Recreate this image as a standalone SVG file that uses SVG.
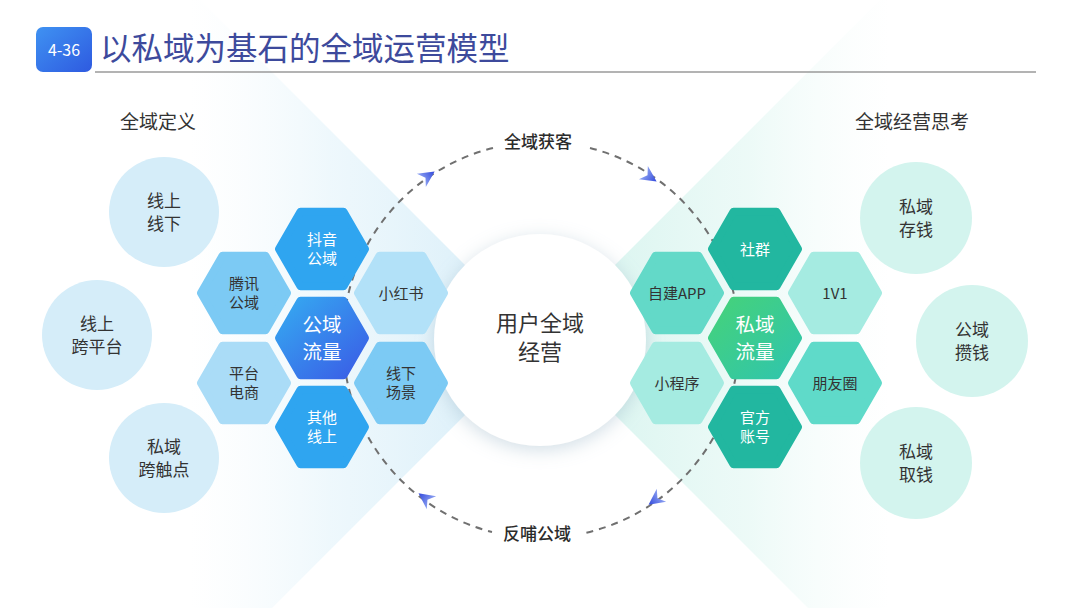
<svg xmlns="http://www.w3.org/2000/svg" width="1080" height="608" viewBox="0 0 1080 608">
<defs>
<style>
text{font-family:"Noto Sans CJK SC","Noto Sans",sans-serif;text-anchor:middle;}
.dk{fill:#333333;}
.wt{fill:#ffffff;}
.h15{font-size:15px;}
.h20{font-size:19.5px;}
.c17{font-size:17px;}
.lbl{font-size:17px;font-weight:500;fill:#2b2b2b;}
.hd{font-size:19px;fill:#333333;}
.arc{fill:none;stroke:#707070;stroke-width:2;stroke-dasharray:7 6;}
.hex{stroke-width:8;stroke-linejoin:round;}
</style>
<linearGradient id="badge" x1="0" y1="0" x2="1" y2="1">
<stop offset="0" stop-color="#3f92f2"/><stop offset="1" stop-color="#2e5ae0"/>
</linearGradient>
<linearGradient id="wedgeL" gradientUnits="userSpaceOnUse" x1="540" y1="0" x2="190" y2="0">
<stop offset="0" stop-color="#cfeaf7" stop-opacity="0.9"/>
<stop offset="0.6" stop-color="#e0f2fa" stop-opacity="0.55"/>
<stop offset="1" stop-color="#eef8fc" stop-opacity="0"/>
</linearGradient>
<linearGradient id="wedgeR" gradientUnits="userSpaceOnUse" x1="540" y1="0" x2="890" y2="0">
<stop offset="0" stop-color="#ccf1ea" stop-opacity="0.9"/>
<stop offset="0.6" stop-color="#def6f1" stop-opacity="0.55"/>
<stop offset="1" stop-color="#eefaf8" stop-opacity="0"/>
</linearGradient>
<linearGradient id="hexBlue" x1="0" y1="0" x2="1" y2="1">
<stop offset="0" stop-color="#35aaf1"/><stop offset="1" stop-color="#3a5ce6"/>
</linearGradient>
<linearGradient id="hexGreen" x1="0" y1="0" x2="1" y2="1">
<stop offset="0" stop-color="#45d27a"/><stop offset="1" stop-color="#30c5ad"/>
</linearGradient>
<linearGradient id="arrowG" x1="0" y1="0" x2="1" y2="0">
<stop offset="0" stop-color="#8fa4f2"/><stop offset="1" stop-color="#3148dc"/>
</linearGradient>
<polygon id="hexShape" points="-43,0 -21.5,-37.2 21.5,-37.2 43,0 21.5,37.2 -21.5,37.2"/>
<path id="arrowHead" d="M8,0 L-8,-8 L-3,0 L-8,8 Z" fill="url(#arrowG)"/>
<filter id="glow" x="-30%" y="-30%" width="160%" height="160%">
<feDropShadow dx="0" dy="4" stdDeviation="9" flood-color="#9cb6c8" flood-opacity="0.45"/>
</filter>
</defs>

<rect width="1080" height="608" fill="#ffffff"/>

<!-- background wedges -->
<polygon points="540,340 190,-10 190,690" fill="url(#wedgeL)"/>
<polygon points="540,340 890,-10 890,690" fill="url(#wedgeR)"/>

<!-- title -->
<g id="title">
<rect x="36" y="27" width="56" height="45" rx="7" fill="url(#badge)"/>
<text x="64" y="56" style="font-size:16px;fill:#ffffff;">4-36</text>
<line x1="95" y1="72" x2="1036" y2="72" stroke="#9a9a9a" stroke-width="1.5"/>
<text x="100" y="60" style="font-size:31.5px;fill:#3d4a9c;text-anchor:start;">以私域为基石的全域运营模型</text>
</g>

<g id="heading-left"><text class="hd" x="158" y="129">全域定义</text></g>
<g id="heading-right"><text class="hd" x="912" y="129">全域经营思考</text></g>

<!-- connectors -->
<g id="connectors">
<path class="arc" d="M493,148 A198,198 0 0 0 492,532"/>
<path class="arc" d="M590,148 A198,198 0 0 1 585,533"/>
<use href="#arrowHead" transform="translate(428,176) rotate(-34)"/>
<use href="#arrowHead" transform="translate(650,177) rotate(34)"/>
<use href="#arrowHead" transform="translate(655,500) rotate(144)"/>
<use href="#arrowHead" transform="translate(425,498) rotate(-144)"/>
<text class="lbl" x="538" y="148">全域获客</text>
<text class="lbl" x="537" y="540">反哺公域</text>
</g>

<!-- center circle -->
<g id="center">
<circle cx="540" cy="340" r="106" fill="#ffffff" filter="url(#glow)"/>
<text x="540" y="331" style="font-size:22px;fill:#333333;">用户全域</text>
<text x="540" y="360" style="font-size:22px;fill:#333333;">经营</text>
</g>

<!-- left circles -->
<g id="c-xsxx"><circle cx="164" cy="212" r="55" fill="#d5edf9"/>
<text class="c17 dk" x="164" y="207">线上</text><text class="c17 dk" x="164" y="230">线下</text></g>
<g id="c-xskpt"><circle cx="97" cy="335" r="55" fill="#d5edf9"/>
<text class="c17 dk" x="97" y="330">线上</text><text class="c17 dk" x="97" y="353">跨平台</text></g>
<g id="c-sykcd"><circle cx="164" cy="458" r="55" fill="#d5edf9"/>
<text class="c17 dk" x="164" y="453">私域</text><text class="c17 dk" x="164" y="476">跨触点</text></g>

<!-- right circles -->
<g id="c-sycq"><circle cx="916" cy="218" r="56" fill="#d3f4ee"/>
<text class="c17 dk" x="916" y="213">私域</text><text class="c17 dk" x="916" y="236">存钱</text></g>
<g id="c-gyzq"><circle cx="972" cy="341" r="56" fill="#d3f4ee"/>
<text class="c17 dk" x="972" y="336">公域</text><text class="c17 dk" x="972" y="359">攒钱</text></g>
<g id="c-syqq"><circle cx="916" cy="463" r="56" fill="#d3f4ee"/>
<text class="c17 dk" x="916" y="458">私域</text><text class="c17 dk" x="916" y="481">取钱</text></g>

<!-- left hexes -->
<g id="h-dy"><use href="#hexShape" class="hex" x="322" y="249" fill="#2fa5f0" stroke="#2fa5f0"/>
<text class="h15 wt" x="322" y="245">抖音</text><text class="h15 wt" x="322" y="264">公域</text></g>
<g id="h-gyll"><use href="#hexShape" class="hex" x="322" y="338" fill="url(#hexBlue)" stroke="url(#hexBlue)"/>
<text class="h20 wt" x="322" y="332">公域</text><text class="h20 wt" x="322" y="359">流量</text></g>
<g id="h-qtxs"><use href="#hexShape" class="hex" x="322" y="427" fill="#2fa5f0" stroke="#2fa5f0"/>
<text class="h15 wt" x="322" y="423">其他</text><text class="h15 wt" x="322" y="442">线上</text></g>
<g id="h-tx"><use href="#hexShape" class="hex" x="244" y="293" fill="#7ccaf4" stroke="#7ccaf4"/>
<text class="h15 dk" x="244" y="289">腾讯</text><text class="h15 dk" x="244" y="308">公域</text></g>
<g id="h-ptds"><use href="#hexShape" class="hex" x="244" y="383" fill="#aadcf7" stroke="#aadcf7"/>
<text class="h15 dk" x="244" y="379">平台</text><text class="h15 dk" x="244" y="398">电商</text></g>
<g id="h-xhs"><use href="#hexShape" class="hex" x="401" y="293" fill="#b2e1f8" stroke="#b2e1f8"/>
<text class="h15 dk" x="401" y="299">小红书</text></g>
<g id="h-xxcj"><use href="#hexShape" class="hex" x="401" y="383" fill="#7ccaf4" stroke="#7ccaf4"/>
<text class="h15 dk" x="401" y="379">线下</text><text class="h15 dk" x="401" y="398">场景</text></g>

<!-- right hexes -->
<g id="h-sq"><use href="#hexShape" class="hex" x="755" y="249" fill="#22b7a0" stroke="#22b7a0"/>
<text class="h15 wt" x="755" y="255">社群</text></g>
<g id="h-syll"><use href="#hexShape" class="hex" x="755" y="338" fill="url(#hexGreen)" stroke="url(#hexGreen)"/>
<text class="h20 wt" x="755" y="332">私域</text><text class="h20 wt" x="755" y="359">流量</text></g>
<g id="h-gfzh"><use href="#hexShape" class="hex" x="755" y="427" fill="#22b7a0" stroke="#22b7a0"/>
<text class="h15 wt" x="755" y="423">官方</text><text class="h15 wt" x="755" y="442">账号</text></g>
<g id="h-zjapp"><use href="#hexShape" class="hex" x="677" y="293" fill="#63d9c8" stroke="#63d9c8"/>
<text class="h15 dk" x="677" y="299">自建APP</text></g>
<g id="h-xcx"><use href="#hexShape" class="hex" x="677" y="383" fill="#a5ebe1" stroke="#a5ebe1"/>
<text class="h15 dk" x="677" y="389">小程序</text></g>
<g id="h-1v1"><use href="#hexShape" class="hex" x="835" y="293" fill="#a5ebe1" stroke="#a5ebe1"/>
<text class="h15 dk" x="835" y="299">1V1</text></g>
<g id="h-pyq"><use href="#hexShape" class="hex" x="835" y="383" fill="#5fdac9" stroke="#5fdac9"/>
<text class="h15 dk" x="835" y="389">朋友圈</text></g>
</svg>
